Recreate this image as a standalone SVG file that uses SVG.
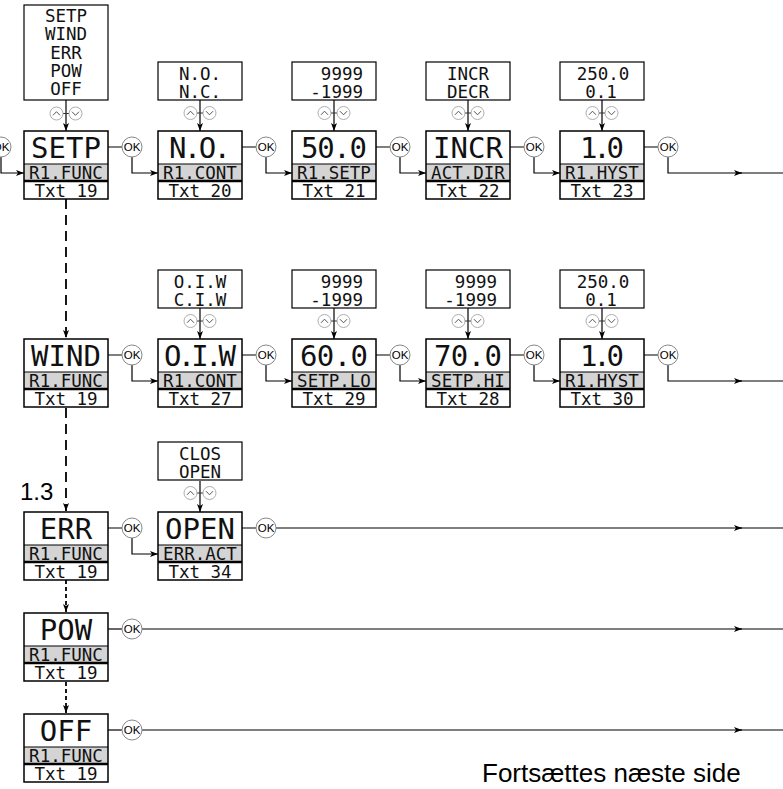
<svg xmlns="http://www.w3.org/2000/svg" xmlns:xlink="http://www.w3.org/1999/xlink" width="783" height="789" viewBox="0 0 783 789">
<defs>
<marker id="ah" markerWidth="10" markerHeight="8" refX="8" refY="3.5" orient="auto" markerUnits="userSpaceOnUse"><path d="M0,0.5 L8,3.5 L0,6.5 L2,3.5 z" fill="#000"/></marker>
<g id="ud">
<line x1="-3" y1="0" x2="3" y2="0" stroke="#333" stroke-width="1"/>
<circle cx="-9.5" cy="0" r="6.5" fill="#fff" stroke="#999" stroke-width="0.8"/>
<circle cx="9.5" cy="0" r="6.5" fill="#fff" stroke="#999" stroke-width="0.8"/>
<path d="M-13,1.8 L-9.5,-1.8 L-6,1.8" fill="none" stroke="#555" stroke-width="1"/>
<path d="M6,-1.8 L9.5,1.8 L13,-1.8" fill="none" stroke="#555" stroke-width="1"/>
</g>
</defs>
<style>
.band{fill:#d4d4d4}
.thin{stroke:#000;stroke-width:1}
.sep{stroke:#000;stroke-width:2.5}
.frame{fill:none;stroke:#000;stroke-width:1.5}
.bg{fill:#fff}
.big{font-family:"DejaVu Sans Mono",monospace;font-size:29px;text-anchor:middle;fill:#111}
.sm{font-family:"DejaVu Sans Mono",monospace;font-size:17.5px;text-anchor:middle;fill:#111}
.smr{font-family:"DejaVu Sans Mono",monospace;font-size:17.5px;text-anchor:end;fill:#111}
.opt{fill:#fff;stroke:#000;stroke-width:1.2}
.okc{fill:#fff;stroke:#888;stroke-width:1}
.okt{font-family:"Liberation Sans",Arial,sans-serif;font-size:11.5px;text-anchor:middle;fill:#000}
.conn{fill:none;stroke:#000;stroke-width:1.2}
.dash{fill:none;stroke:#000;stroke-width:1.8;stroke-dasharray:10 6}
.dot{fill:none;stroke:#000;stroke-width:1.8;stroke-dasharray:4 3}
.lbl{font-family:"Liberation Sans",Arial,sans-serif;fill:#000}
</style>
<rect width="783" height="789" fill="#fff"/>

<!-- connectors -->
<g id="connectors">
<path class="dash" d="M66,199 V338" marker-end="url(#ah)"/>
<path class="dash" d="M66,408 V511" marker-end="url(#ah)"/>
<path class="dot" d="M66,580 V612" marker-end="url(#ah)"/>
<path class="dot" d="M66,682 V713" marker-end="url(#ah)"/>
<!-- option arrows -->
<path class="conn" d="M66,100 V131" marker-end="url(#ah)"/>
<path class="conn" d="M200,100 V131" marker-end="url(#ah)"/>
<path class="conn" d="M334,100 V131" marker-end="url(#ah)"/>
<path class="conn" d="M468,100 V131" marker-end="url(#ah)"/>
<path class="conn" d="M602,100 V131" marker-end="url(#ah)"/>
<path class="conn" d="M200,308 V339" marker-end="url(#ah)"/>
<path class="conn" d="M334,308 V339" marker-end="url(#ah)"/>
<path class="conn" d="M468,308 V339" marker-end="url(#ah)"/>
<path class="conn" d="M602,308 V339" marker-end="url(#ah)"/>
<path class="conn" d="M200,481 V512" marker-end="url(#ah)"/>
<!-- row 1 -->
<path class="conn" d="M1,157 V173 H24" marker-end="url(#ah)"/>
<path class="conn" d="M108,147 H122 M242,147 H256 M376,147 H390 M510,147 H524 M644,147 H658"/>
<path class="conn" d="M132,157 V173 H158" marker-end="url(#ah)"/>
<path class="conn" d="M266,157 V173 H292" marker-end="url(#ah)"/>
<path class="conn" d="M400,157 V173 H426" marker-end="url(#ah)"/>
<path class="conn" d="M534,157 V173 H560" marker-end="url(#ah)"/>
<path class="conn" d="M668,157 V173 H742" marker-end="url(#ah)"/>
<path class="conn" d="M740,173 H783"/>
<!-- row 2 -->
<path class="conn" d="M108,355 H122 M242,355 H256 M376,355 H390 M510,355 H524 M644,355 H658"/>
<path class="conn" d="M132,365 V381 H158" marker-end="url(#ah)"/>
<path class="conn" d="M266,365 V381 H292" marker-end="url(#ah)"/>
<path class="conn" d="M400,365 V381 H426" marker-end="url(#ah)"/>
<path class="conn" d="M534,365 V381 H560" marker-end="url(#ah)"/>
<path class="conn" d="M668,365 V381 H742" marker-end="url(#ah)"/>
<path class="conn" d="M740,381 H783"/>
<!-- row 3 -->
<path class="conn" d="M108,528 H122 M242,528 H256"/>
<path class="conn" d="M132,538 V554 H158" marker-end="url(#ah)"/>
<path class="conn" d="M276,528 H742" marker-end="url(#ah)"/>
<path class="conn" d="M740,528 H783"/>
<!-- POW -->
<path class="conn" d="M108,629 H122"/>
<path class="conn" d="M142,629 H742" marker-end="url(#ah)"/>
<path class="conn" d="M740,629 H783"/>
<!-- OFF -->
<path class="conn" d="M108,730 H122"/>
<path class="conn" d="M142,730 H742" marker-end="url(#ah)"/>
<path class="conn" d="M740,730 H783"/>
</g>

<!-- OK buttons -->
<g id="ok-buttons">
<g><circle class="okc" cx="1" cy="147" r="10"/><text class="okt" x="1" y="151">OK</text></g>
<g><circle class="okc" cx="132" cy="147" r="10"/><text class="okt" x="132" y="151">OK</text></g>
<g><circle class="okc" cx="266" cy="147" r="10"/><text class="okt" x="266" y="151">OK</text></g>
<g><circle class="okc" cx="400" cy="147" r="10"/><text class="okt" x="400" y="151">OK</text></g>
<g><circle class="okc" cx="534" cy="147" r="10"/><text class="okt" x="534" y="151">OK</text></g>
<g><circle class="okc" cx="668" cy="147" r="10"/><text class="okt" x="668" y="151">OK</text></g>
<g><circle class="okc" cx="132" cy="355" r="10"/><text class="okt" x="132" y="359">OK</text></g>
<g><circle class="okc" cx="266" cy="355" r="10"/><text class="okt" x="266" y="359">OK</text></g>
<g><circle class="okc" cx="400" cy="355" r="10"/><text class="okt" x="400" y="359">OK</text></g>
<g><circle class="okc" cx="534" cy="355" r="10"/><text class="okt" x="534" y="359">OK</text></g>
<g><circle class="okc" cx="668" cy="355" r="10"/><text class="okt" x="668" y="359">OK</text></g>
<g><circle class="okc" cx="132" cy="528" r="10"/><text class="okt" x="132" y="532">OK</text></g>
<g><circle class="okc" cx="266" cy="528" r="10"/><text class="okt" x="266" y="532">OK</text></g>
<g><circle class="okc" cx="132" cy="629" r="10"/><text class="okt" x="132" y="633">OK</text></g>
<g><circle class="okc" cx="132" cy="730" r="10"/><text class="okt" x="132" y="734">OK</text></g>
</g>

<!-- option boxes -->
<g id="opt-func">
<rect class="opt" x="24" y="5" width="84" height="95"/>
<text class="sm" x="66" y="22">SETP</text>
<text class="sm" x="66" y="40.3">WIND</text>
<text class="sm" x="66" y="58.6">ERR</text>
<text class="sm" x="66" y="77">POW</text>
<text class="sm" x="66" y="95.3">OFF</text>
<use xlink:href="#ud" x="66" y="113.5"/>
</g>
<g id="opt-cont1">
<rect class="opt" x="158" y="62" width="84" height="38"/>
<text class="sm" x="200" y="80">N.O.</text>
<text class="sm" x="200" y="98">N.C.</text>
<use xlink:href="#ud" x="200" y="113"/>
</g>
<g id="opt-setp1">
<rect class="opt" x="292" y="62" width="84" height="38"/>
<text class="smr" x="363" y="80">9999</text>
<text class="smr" x="363" y="98">-1999</text>
<use xlink:href="#ud" x="334" y="113"/>
</g>
<g id="opt-dir">
<rect class="opt" x="426" y="62" width="84" height="38"/>
<text class="sm" x="468" y="80">INCR</text>
<text class="sm" x="468" y="98">DECR</text>
<use xlink:href="#ud" x="468" y="113"/>
</g>
<g id="opt-hyst1">
<rect class="opt" x="560" y="62" width="84" height="38"/>
<text class="sm" x="603" y="80">250.0</text>
<text class="sm" x="601" y="98">0.1</text>
<use xlink:href="#ud" x="602" y="113"/>
</g>
<g id="opt-cont2">
<rect class="opt" x="158" y="270" width="84" height="38"/>
<text class="sm" x="200" y="288">O.I.W</text>
<text class="sm" x="200" y="306">C.I.W</text>
<use xlink:href="#ud" x="200" y="321"/>
</g>
<g id="opt-setplo">
<rect class="opt" x="292" y="270" width="84" height="38"/>
<text class="smr" x="363" y="288">9999</text>
<text class="smr" x="363" y="306">-1999</text>
<use xlink:href="#ud" x="334" y="321"/>
</g>
<g id="opt-setphi">
<rect class="opt" x="426" y="270" width="84" height="38"/>
<text class="smr" x="497" y="288">9999</text>
<text class="smr" x="497" y="306">-1999</text>
<use xlink:href="#ud" x="468" y="321"/>
</g>
<g id="opt-hyst2">
<rect class="opt" x="560" y="270" width="84" height="38"/>
<text class="sm" x="603" y="288">250.0</text>
<text class="sm" x="601" y="306">0.1</text>
<use xlink:href="#ud" x="602" y="321"/>
</g>
<g id="opt-erract">
<rect class="opt" x="158" y="442" width="84" height="38"/>
<text class="sm" x="200" y="460">CLOS</text>
<text class="sm" x="200" y="478">OPEN</text>
<use xlink:href="#ud" x="200" y="493"/>
</g>

<!-- display nodes -->
<g id="n-setp" transform="translate(24,131)">
<rect class="bg" width="84" height="68"/><rect class="band" y="33" width="84" height="17"/>
<line class="thin" x1="0" y1="33" x2="84" y2="33"/><line class="sep" x1="0" y1="50" x2="84" y2="50"/><rect class="frame" width="84" height="68"/>
<text class="big" x="42" y="26.5">SETP</text><text class="sm" x="42" y="47.5">R1.FUNC</text><text class="sm" x="42" y="65.5">Txt 19</text>
</g>
<g id="n-no" transform="translate(158,131)">
<rect class="bg" width="84" height="68"/><rect class="band" y="33" width="84" height="17"/>
<line class="thin" x1="0" y1="33" x2="84" y2="33"/><line class="sep" x1="0" y1="50" x2="84" y2="50"/><rect class="frame" width="84" height="68"/>
<text class="big" x="42" y="26.5" textLength="62" lengthAdjust="spacing">N.O.</text><text class="sm" x="42" y="47.5">R1.CONT</text><text class="sm" x="42" y="65.5">Txt 20</text>
</g>
<g id="n-setp50" transform="translate(292,131)">
<rect class="bg" width="84" height="68"/><rect class="band" y="33" width="84" height="17"/>
<line class="thin" x1="0" y1="33" x2="84" y2="33"/><line class="sep" x1="0" y1="50" x2="84" y2="50"/><rect class="frame" width="84" height="68"/>
<text class="big" x="42" y="26.5" textLength="66" lengthAdjust="spacing">50.0</text><text class="sm" x="42" y="47.5">R1.SETP</text><text class="sm" x="42" y="65.5">Txt 21</text>
</g>
<g id="n-incr" transform="translate(426,131)">
<rect class="bg" width="84" height="68"/><rect class="band" y="33" width="84" height="17"/>
<line class="thin" x1="0" y1="33" x2="84" y2="33"/><line class="sep" x1="0" y1="50" x2="84" y2="50"/><rect class="frame" width="84" height="68"/>
<text class="big" x="42" y="26.5">INCR</text><text class="sm" x="42" y="47.5">ACT.DIR</text><text class="sm" x="42" y="65.5">Txt 22</text>
</g>
<g id="n-hyst1" transform="translate(560,131)">
<rect class="bg" width="84" height="68"/><rect class="band" y="33" width="84" height="17"/>
<line class="thin" x1="0" y1="33" x2="84" y2="33"/><line class="sep" x1="0" y1="50" x2="84" y2="50"/><rect class="frame" width="84" height="68"/>
<text class="big" x="42" y="26.5" textLength="44" lengthAdjust="spacing">1.0</text><text class="sm" x="42" y="47.5">R1.HYST</text><text class="sm" x="42" y="65.5">Txt 23</text>
</g>

<g id="n-wind" transform="translate(24,339)">
<rect class="bg" width="84" height="68"/><rect class="band" y="33" width="84" height="17"/>
<line class="thin" x1="0" y1="33" x2="84" y2="33"/><line class="sep" x1="0" y1="50" x2="84" y2="50"/><rect class="frame" width="84" height="68"/>
<text class="big" x="42" y="26.5">WIND</text><text class="sm" x="42" y="47.5">R1.FUNC</text><text class="sm" x="42" y="65.5">Txt 19</text>
</g>
<g id="n-oiw" transform="translate(158,339)">
<rect class="bg" width="84" height="68"/><rect class="band" y="33" width="84" height="17"/>
<line class="thin" x1="0" y1="33" x2="84" y2="33"/><line class="sep" x1="0" y1="50" x2="84" y2="50"/><rect class="frame" width="84" height="68"/>
<text class="big" x="42" y="26.5" textLength="72" lengthAdjust="spacing">O.I.W</text><text class="sm" x="42" y="47.5">R1.CONT</text><text class="sm" x="42" y="65.5">Txt 27</text>
</g>
<g id="n-setplo" transform="translate(292,339)">
<rect class="bg" width="84" height="68"/><rect class="band" y="33" width="84" height="17"/>
<line class="thin" x1="0" y1="33" x2="84" y2="33"/><line class="sep" x1="0" y1="50" x2="84" y2="50"/><rect class="frame" width="84" height="68"/>
<text class="big" x="42" y="26.5" textLength="68" lengthAdjust="spacing">60.0</text><text class="sm" x="42" y="47.5">SETP.LO</text><text class="sm" x="42" y="65.5">Txt 29</text>
</g>
<g id="n-setphi" transform="translate(426,339)">
<rect class="bg" width="84" height="68"/><rect class="band" y="33" width="84" height="17"/>
<line class="thin" x1="0" y1="33" x2="84" y2="33"/><line class="sep" x1="0" y1="50" x2="84" y2="50"/><rect class="frame" width="84" height="68"/>
<text class="big" x="42" y="26.5" textLength="68" lengthAdjust="spacing">70.0</text><text class="sm" x="42" y="47.5">SETP.HI</text><text class="sm" x="42" y="65.5">Txt 28</text>
</g>
<g id="n-hyst2" transform="translate(560,339)">
<rect class="bg" width="84" height="68"/><rect class="band" y="33" width="84" height="17"/>
<line class="thin" x1="0" y1="33" x2="84" y2="33"/><line class="sep" x1="0" y1="50" x2="84" y2="50"/><rect class="frame" width="84" height="68"/>
<text class="big" x="42" y="26.5" textLength="44" lengthAdjust="spacing">1.0</text><text class="sm" x="42" y="47.5">R1.HYST</text><text class="sm" x="42" y="65.5">Txt 30</text>
</g>

<g id="n-err" transform="translate(24,512)">
<rect class="bg" width="84" height="68"/><rect class="band" y="33" width="84" height="17"/>
<line class="thin" x1="0" y1="33" x2="84" y2="33"/><line class="sep" x1="0" y1="50" x2="84" y2="50"/><rect class="frame" width="84" height="68"/>
<text class="big" x="42" y="26.5">ERR</text><text class="sm" x="42" y="47.5">R1.FUNC</text><text class="sm" x="42" y="65.5">Txt 19</text>
</g>
<g id="n-open" transform="translate(158,512)">
<rect class="bg" width="84" height="68"/><rect class="band" y="33" width="84" height="17"/>
<line class="thin" x1="0" y1="33" x2="84" y2="33"/><line class="sep" x1="0" y1="50" x2="84" y2="50"/><rect class="frame" width="84" height="68"/>
<text class="big" x="42" y="26.5">OPEN</text><text class="sm" x="42" y="47.5">ERR.ACT</text><text class="sm" x="42" y="65.5">Txt 34</text>
</g>
<g id="n-pow" transform="translate(24,613)">
<rect class="bg" width="84" height="68"/><rect class="band" y="33" width="84" height="17"/>
<line class="thin" x1="0" y1="33" x2="84" y2="33"/><line class="sep" x1="0" y1="50" x2="84" y2="50"/><rect class="frame" width="84" height="68"/>
<text class="big" x="42" y="26.5">POW</text><text class="sm" x="42" y="47.5">R1.FUNC</text><text class="sm" x="42" y="65.5">Txt 19</text>
</g>
<g id="n-off" transform="translate(24,714)">
<rect class="bg" width="84" height="68"/><rect class="band" y="33" width="84" height="17"/>
<line class="thin" x1="0" y1="33" x2="84" y2="33"/><line class="sep" x1="0" y1="50" x2="84" y2="50"/><rect class="frame" width="84" height="68"/>
<text class="big" x="42" y="26.5">OFF</text><text class="sm" x="42" y="47.5">R1.FUNC</text><text class="sm" x="42" y="65.5">Txt 19</text>
</g>

<text class="lbl" x="20" y="500" font-size="24">1.3</text>
<text class="lbl" x="482" y="782" font-size="26">Fortsættes næste side</text>
</svg>
